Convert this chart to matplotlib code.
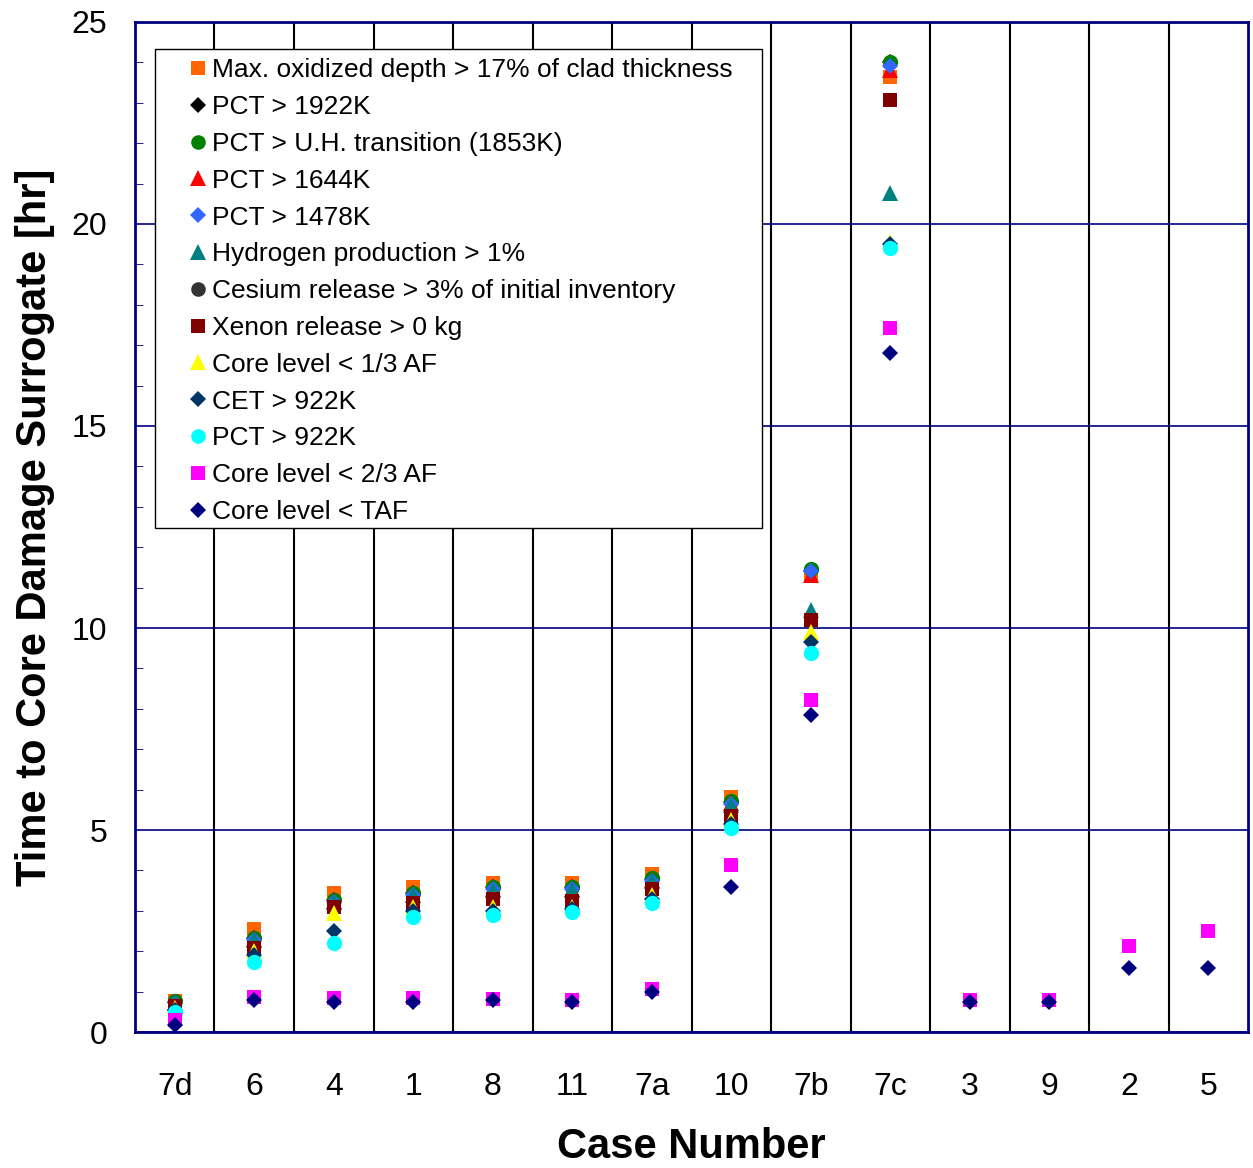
import numpy as np
import matplotlib
matplotlib.use("Agg")
import matplotlib.pyplot as plt
from matplotlib.ticker import MultipleLocator
from matplotlib.patches import Rectangle

plt.rcParams['font.family'] = ['Liberation Sans', 'DejaVu Sans']

cases = ['7d', '6', '4', '1', '8', '11', '7a', '10', '7b', '7c', '3', '9', '2', '5']
nan = np.nan

# time [hr] at which each surrogate is reached, per case
max_oxid   = [0.78, 2.55, 3.43, 3.58, 3.70, 3.68, 3.90, 5.82, 11.30, 23.65, nan, nan, nan, nan]
pct_1922   = [0.75, 2.33, 3.27, 3.43, 3.58, 3.58, 3.80, 5.70, 11.40, 24.00, nan, nan, nan, nan]
pct_uh     = [0.76, 2.34, 3.28, 3.45, 3.60, 3.60, 3.82, 5.72, 11.45, 24.02, nan, nan, nan, nan]
pct_1644   = [0.73, 2.30, 3.24, 3.40, 3.55, 3.55, 3.77, 5.66, 11.30, 23.80, nan, nan, nan, nan]
pct_1478   = [0.72, 2.28, 3.22, 3.38, 3.53, 3.53, 3.75, 5.64, 11.40, 23.90, nan, nan, nan, nan]
hydrogen   = [0.72, 2.28, 3.22, 3.38, 3.52, 3.52, 3.74, 5.62, 10.45, 20.77, nan, nan, nan, nan]
cesium     = [0.65, 2.08, 3.10, 3.20, 3.30, 3.25, 3.55, 5.35, 10.20, 23.07, nan, nan, nan, nan]
xenon      = [0.65, 2.08, 3.10, 3.20, 3.30, 3.25, 3.55, 5.35, 10.20, 23.07, nan, nan, nan, nan]
level_13   = [0.60, 2.00, 2.95, 3.10, 3.10, 3.10, 3.40, 5.25, 9.90, 19.55, nan, nan, nan, nan]
cet_922    = [0.55, 1.90, 2.50, 3.00, 3.00, 3.05, 3.30, 5.15, 9.65, 19.50, nan, nan, nan, nan]
pct_922    = [0.50, 1.73, 2.20, 2.85, 2.90, 2.97, 3.20, 5.05, 9.37, 19.40, nan, nan, nan, nan]
level_23   = [0.30, 0.87, 0.84, 0.84, 0.83, 0.79, 1.06, 4.13, 8.22, 17.42, 0.79, 0.79, 2.13, 2.50]
level_taf  = [0.17, 0.79, 0.75, 0.75, 0.79, 0.75, 1.00, 3.60, 7.85, 16.80, 0.75, 0.75, 1.58, 1.58]

series = [
    ('Max. oxidized depth > 17% of clad thickness', max_oxid, 's', '#FF6600', 10.5),
    ('PCT > 1922K', pct_1922, 'D', '#000000', 8),
    ('PCT > U.H. transition (1853K)', pct_uh, 'o', '#008000', 11),
    ('PCT > 1644K', pct_1644, '^', '#FF0000', 11),
    ('PCT > 1478K', pct_1478, 'D', '#3366FF', 8),
    ('Hydrogen production > 1%', hydrogen, '^', '#008080', 11),
    ('Cesium release > 3% of initial inventory', cesium, 'o', '#333333', 9.5),
    ('Xenon release > 0 kg', xenon, 's', '#800000', 10.5),
    ('Core level < 1/3 AF', level_13, '^', '#FFFF00', 11),
    ('CET > 922K', cet_922, 'D', '#003366', 8),
    ('PCT > 922K', pct_922, 'o', '#00FFFF', 11),
    ('Core level < 2/3 AF', level_23, 's', '#FF00FF', 10.5),
    ('Core level < TAF', level_taf, 'D', '#000080', 8),
]
legend_ms = {'s': 10.5, 'D': 8, 'o': 10.5, '^': 11}

fig = plt.figure(figsize=(12.53, 11.68), dpi=100)
ax = fig.add_axes([0.1077, 0.1164, 0.8885, 0.8648])

x = np.arange(len(cases))
for label, vals, mk, col, ms in series:
    ax.plot(x, vals, linestyle='none', marker=mk, color=col, markersize=ms,
            markeredgewidth=0, label=label, zorder=3)

ax.set_xlim(-0.5, len(cases) - 0.5)
ax.set_ylim(0, 25)
ax.set_xticks(x)
ax.set_xticklabels(cases)
ax.set_xticks(x[:-1] + 0.5, minor=True)
ax.yaxis.set_major_locator(MultipleLocator(5))
ax.yaxis.set_minor_locator(MultipleLocator(1))

ax.grid(True, which='minor', axis='x', color='black', linewidth=1.5)
ax.grid(True, which='major', axis='y', color='#000080', linewidth=1.2)
ax.set_axisbelow(True)

ax.tick_params(axis='x', which='both', length=0, labelsize=23, pad=29)
ax.tick_params(axis='y', which='major', direction='in', length=0, labelsize=23, pad=20)
ax.tick_params(axis='y', which='minor', direction='in', length=6, color='#000080')

for s in ax.spines.values():
    s.set_color('#000080')
    s.set_linewidth(2)

ax.set_xlabel('Case Number', fontsize=30, fontweight='bold', labelpad=18)
ax.set_ylabel('Time to Core Damage Surrogate [hr]', fontsize=30, fontweight='bold', labelpad=12)

# legend box drawn separately so the markers can sit indented from the frame
frame = Rectangle((0.018, 0.499), 0.5453, 0.4743, transform=ax.transAxes,
                  facecolor='white', edgecolor='black', linewidth=1, zorder=4)
ax.add_patch(frame)
leg = ax.legend(loc='upper left', bbox_to_anchor=(0.047, 0.964), fontsize=19,
                frameon=False, handlelength=0.8, handletextpad=0.15,
                labelspacing=0.485, borderpad=0, borderaxespad=0)
leg.set_zorder(5)
for h, (_, _, mk, _, _) in zip(leg.legend_handles, series):
    h.set_markersize(legend_ms[mk])

fig.savefig('out.png', dpi=100)
